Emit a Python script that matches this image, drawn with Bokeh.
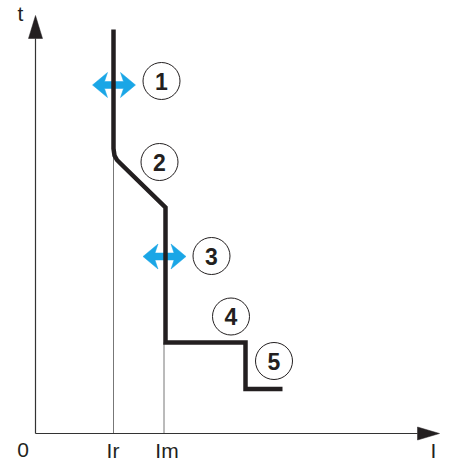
from bokeh.plotting import figure
from bokeh.models import Range1d
from bokeh.core.properties import value
from bokeh.embed import file_html
from bokeh.resources import INLINE

# ---- data (chart units: origin at the axes' corner, 1 unit = 1 px) ----
Ir = 78
Im = 128.5
curve_x = [78, 78, 79, 81.5, 85.5, 130, 130, 210, 210, 247]
curve_y = [404, 285, 278, 273.5, 269.5, 226, 91, 91, 44.5, 44.5]
marker_labels = ["1", "2", "3", "4", "5"]
marker_x = [126, 124, 176, 195.5, 238.5]
marker_y = [352.5, 271.5, 177.5, 117, 72.5]
adjust_x = [78.5, 129]      # blue double arrows (settings that can be moved)
adjust_y = [348.5, 177]
tick_labels = ["0", "Ir", "Im"]
tick_x = [-12.5, 77.5, 131.5]
x_axis_len = 404
y_axis_len = 418

BLACK = "#231f20"
BLUE = "#1aa6e6"
GREY = "#777777"

p = figure(width=452, height=463, output_backend="svg", toolbar_location=None,
           x_range=Range1d(-35, 417), y_range=Range1d(-30, 433),
           min_border=0, outline_line_color=None)
p.axis.visible = False
p.grid.visible = False
p.background_fill_color = "white"

# guide lines for Ir and Im
p.segment(x0=[Ir, Im], y0=[0, 0], x1=[Ir, Im], y1=[282, 91], line_color=GREY, line_width=1)

# axes with arrow heads
p.segment(x0=[0, 0], y0=[0, 0], x1=[x_axis_len - 22, 0], y1=[0, y_axis_len - 23],
          line_color="#333333", line_width=1.2)
p.patch([x_axis_len, x_axis_len - 22, x_axis_len - 22], [0, 6.5, -6.5],
        fill_color=BLACK, line_color=BLACK, line_width=0.5)
p.patch([0, -7, 7], [y_axis_len, y_axis_len - 23, y_axis_len - 23],
        fill_color=BLACK, line_color=BLACK, line_width=0.5)

# blue double arrows
L, h, H, s = 21.5, 15, 12.5, 3.5
xs, ys = [], []
for cx, cy in zip(adjust_x, adjust_y):
    px = [-L, -L + h, -L + h - 3, L - h + 3, L - h, L, L - h, L - h + 3, -L + h - 3, -L + h]
    py = [0, H, s, s, H, 0, -H, -s, -s, -H]
    xs.append([cx + v for v in px])
    ys.append([cy + v for v in py])
p.patches(xs, ys, fill_color=BLUE, line_color=BLUE, line_width=0.5)

# tripping curve
p.line(curve_x, curve_y, line_color=BLACK, line_width=4.5, line_join="miter")

# numbered circles
p.scatter(marker_x, marker_y, marker="circle", size=37, fill_color="white",
          line_color=BLACK, line_width=1)
p.text(marker_x, marker_y, text=marker_labels, text_font=value("Liberation Sans"),
       text_font_style="bold", text_font_size="23px", text_color=BLACK,
       text_align="center", text_baseline="middle")

# axis labels
p.text(tick_x, [-16.5] * 3, text=tick_labels, text_font=value("Liberation Sans"),
       text_font_size="21px", text_color=BLACK, text_align="center", text_baseline="middle")
p.text([398], [-17], text=["I"], text_font=value("Liberation Sans"),
       text_font_size="21px", text_color=BLACK, text_align="center", text_baseline="middle")
p.text([-15], [420.5], text=["t"], text_font=value("Liberation Sans"),
       text_font_size="21px", text_color=BLACK, text_align="center", text_baseline="middle")

open("out.html", "w").write(file_html(p, INLINE))
